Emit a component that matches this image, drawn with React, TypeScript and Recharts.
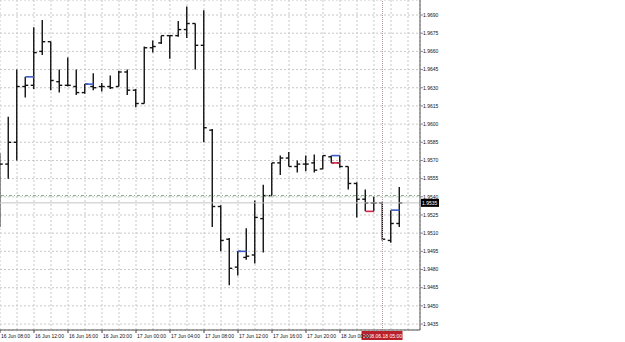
import { ComposedChart, Bar, XAxis, YAxis, CartesianGrid, ReferenceLine } from 'recharts'

// hourly GBP bars, 16 Jun 08:00 onwards
const opens = [
  1.9537, 1.9567, 1.9585, 1.9631, 1.9632, 1.9660, 1.9668, 1.9635, 1.9632, 1.9631,
  1.9626, 1.9631, 1.9631, 1.9631, 1.9631, 1.9643, 1.9628, 1.9617, 1.9663, 1.9667,
  1.9673, 1.9673, 1.9678, 1.9683, 1.9665, 1.9595, 1.9532, 1.9505, 1.9482, 1.9490,
  1.9492, 1.9522, 1.9541, 1.9568, 1.9572, 1.9565, 1.9567, 1.9568, 1.9563, 1.9573,
  1.9568, 1.9565, 1.9551, 1.9538, 1.9535, 1.9535, 1.9504, 1.9518,
]
const highs = [
  1.9576, 1.9606, 1.9645, 1.9639, 1.9680, 1.9686, 1.9668, 1.9645, 1.9655, 1.9645,
  1.9633, 1.9642, 1.9634, 1.9640, 1.9644, 1.9645, 1.9629, 1.9664, 1.9669, 1.9673,
  1.9673, 1.9685, 1.9697, 1.9683, 1.9694, 1.9596, 1.9533, 1.9506, 1.9495, 1.9514,
  1.9537, 1.9550, 1.9568, 1.9574, 1.9577, 1.9570, 1.9574, 1.9575, 1.9574, 1.9574,
  1.9574, 1.9565, 1.9552, 1.9546, 1.9540, 1.9536, 1.9529, 1.9548,
]
const lows = [
  1.9515, 1.9555, 1.9570, 1.9622, 1.9629, 1.9657, 1.9628, 1.9626, 1.9631, 1.9624,
  1.9625, 1.9628, 1.9627, 1.9629, 1.9631, 1.9624, 1.9614, 1.9617, 1.9659, 1.9666,
  1.9654, 1.9672, 1.9671, 1.9645, 1.9585, 1.9515, 1.9495, 1.9467, 1.9475, 1.9488,
  1.9485, 1.9494, 1.9541, 1.9558, 1.9565, 1.9560, 1.9561, 1.9560, 1.9563, 1.9568,
  1.9564, 1.9546, 1.9523, 1.9528, 1.9528, 1.9504, 1.9502, 1.9515,
]
const closes = [
  1.9567, 1.9585, 1.9631, 1.9632, 1.9659, 1.9668, 1.9636, 1.9632, 1.9632, 1.9626,
  1.9633, 1.9630, 1.9631, 1.9630, 1.9643, 1.9628, 1.9617, 1.9663, 1.9664, 1.9673,
  1.9673, 1.9678, 1.9683, 1.9665, 1.9597, 1.9532, 1.9504, 1.9481, 1.9495, 1.9491,
  1.9523, 1.9541, 1.9568, 1.9572, 1.9565, 1.9567, 1.9567, 1.9562, 1.9574, 1.9568,
  1.9565, 1.9551, 1.9538, 1.9535, 1.9535, 1.9505, 1.9518, 1.9535,
]

const timeLabels = [
  '16 Jun 08:00', '16 Jun 12:00', '16 Jun 16:00', '16 Jun 20:00', '17 Jun 00:00', '17 Jun 04:00',
  '17 Jun 08:00', '17 Jun 12:00', '17 Jun 16:00', '17 Jun 20:00', '18 Jun 00:00',
]
const priceTicks = [
  1.9435, 1.945, 1.9465, 1.948, 1.9495, 1.951, 1.9525, 1.954, 1.9555,
  1.957, 1.9585, 1.96, 1.9615, 1.963, 1.9645, 1.966, 1.9675, 1.969,
]
const blueMarks = [
  { bar: 3, price: 1.9639 }, { bar: 10, price: 1.9633 }, { bar: 28, price: 1.9495 },
  { bar: 39, price: 1.9574 }, { bar: 46, price: 1.9529 },
]
const redMarks = [{ bar: 39, price: 1.9568 }, { bar: 43, price: 1.9528 }]

const bidPrice = 1.9535
const levelPrice = 1.9541
const cursorBar = 45
const cursorTime = '2008.06.18 05:00'

const data = opens.map((o, i) => ({ i, o, h: highs[i], l: lows[i], c: closes[i], range: [lows[i], highs[i]] }))
const gridBars = Array.from({ length: 25 }, (_, k) => k * 2)

const FONT = 'Liberation Sans, Arial, sans-serif'

function OhlcBar(props: any) {
  const { x, y, width, height, payload } = props
  const cx = x + width / 2
  const top = Math.min(y, y + height)
  const bottom = Math.max(y, y + height)
  const py = (p: number) => top + ((payload.h - p) / (payload.h - payload.l)) * (bottom - top)
  return (
    <g stroke="#111" strokeWidth={1.4}>
      <line x1={cx} x2={cx} y1={top} y2={bottom} />
      <line x1={cx - 3} x2={cx} y1={py(payload.o)} y2={py(payload.o)} />
      <line x1={cx} x2={cx + 3} y1={py(payload.c)} y2={py(payload.c)} />
    </g>
  )
}

function TimeTick(props: any) {
  const { x, y, payload } = props
  if (payload.value % 4 !== 0) return null
  const label = timeLabels[payload.value / 4]
  if (!label) return null
  return (
    <g>
      <line x1={x} x2={x} y1={330} y2={333} stroke="#444" />
      <text x={x + 1} y={y + 6} fontSize={5} fontFamily={FONT} fill="#111" textAnchor="start">
        {label}
      </text>
    </g>
  )
}

function BidLabel(props: any) {
  const { viewBox } = props
  const yy = viewBox.y
  const xx = viewBox.x + viewBox.width
  return (
    <g>
      <rect x={xx + 1} y={yy - 4} width={18} height={8} fill="#000" />
      <text x={xx + 2} y={yy + 2} fontSize={5} fontFamily={FONT} fill="#fff">{bidPrice.toFixed(4)}</text>
    </g>
  )
}

function CursorLabel(props: any) {
  const { viewBox } = props
  const xx = viewBox.x
  const yy = viewBox.y + viewBox.height
  return (
    <g>
      <rect x={xx - 21} y={yy + 1} width={41} height={9} fill="#b8202c" />
      <text x={xx} y={yy + 7.5} fontSize={5} fontFamily={FONT} fill="#fff" textAnchor="middle">{cursorTime}</text>
    </g>
  )
}

export default function App() {
  return (
    <div style={{ position: 'absolute', left: 0, top: 0, width: 625, height: 342, background: '#fff' }}>
      <ComposedChart width={625} height={342} data={data} margin={{ top: 0, right: 0, left: 0, bottom: 0 }}>
        <CartesianGrid stroke="#c8c8c8" strokeDasharray="2 2" />
        <XAxis
          dataKey="i"
          type="number"
          domain={[0, 49.41]}
          allowDataOverflow
          ticks={gridBars}
          interval={0}
          height={12}
          tickLine={false}
          tickSize={2}
          tickMargin={0}
          axisLine={{ stroke: '#555' }}
          tick={<TimeTick />}
        />
        <YAxis
          orientation="right"
          width={205}
          domain={[1.94301, 1.97024]}
          allowDataOverflow
          ticks={priceTicks}
          interval={0}
          tickSize={3}
          tickMargin={0}
          tickLine={{ stroke: '#888' }}
          axisLine={{ stroke: '#555' }}
          tickFormatter={(v: number) => v.toFixed(4)}
          tick={{ fontSize: 5, fill: '#111', fontFamily: FONT, textAnchor: 'start' }}
        />
        <ReferenceLine y={levelPrice} stroke="#7fa87f" strokeDasharray="3 2 1 2" />
        <ReferenceLine y={bidPrice} stroke="#c4c4c4" label={<BidLabel />} />
        <ReferenceLine x={cursorBar} stroke="#b09a9a" strokeDasharray="1 1" label={<CursorLabel />} />
        <Bar dataKey="range" barSize={6} shape={<OhlcBar />} isAnimationActive={false} />
        {blueMarks.map((m, k) => (
          <ReferenceLine
            key={'b' + k}
            segment={[{ x: m.bar, y: m.price }, { x: m.bar + 1, y: m.price }]}
            stroke="#3c5cc8"
            strokeWidth={1.6}
          />
        ))}
        {redMarks.map((m, k) => (
          <ReferenceLine
            key={'r' + k}
            segment={[{ x: m.bar, y: m.price }, { x: m.bar + 1, y: m.price }]}
            stroke="#d02848"
            strokeWidth={1.6}
          />
        ))}
      </ComposedChart>
    </div>
  )
}
